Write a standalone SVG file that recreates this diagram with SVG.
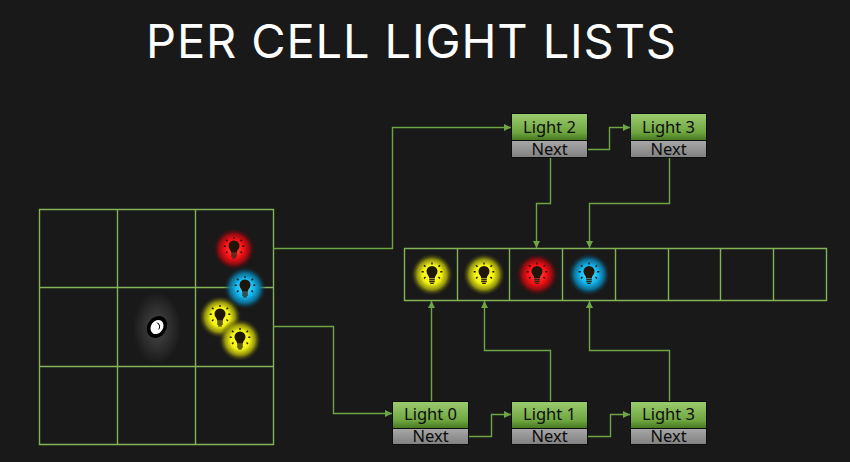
<svg xmlns="http://www.w3.org/2000/svg" width="850" height="462" viewBox="0 0 850 462">
<style>
.grid{fill:none;stroke:#82b356;stroke-width:1.4}
.link{fill:none;stroke:#6ea544;stroke-width:1.4;marker-end:url(#arrow)}
.head{fill:url(#headFill);stroke:#0d0d0d;stroke-width:1}
.next{fill:url(#nextFill);stroke:#0d0d0d;stroke-width:1}
.lbl{font-family:"Noto Sans","DejaVu Sans",sans-serif;font-size:16.500px;fill:#0c0c0c;text-anchor:middle}
.title{font-family:"Inter","Liberation Sans",sans-serif;font-size:47px;font-weight:400;fill:#fff}
</style>
<defs>
<marker id="arrow" markerUnits="userSpaceOnUse" markerWidth="8" markerHeight="8" refX="7" refY="3.500" orient="auto"><path d="M0 0L7 3.500L0 7z" fill="#6ea544"/></marker>
<linearGradient id="headFill" x1="0" y1="0" x2="0" y2="1"><stop offset="0" stop-color="#9ccb70"/><stop offset=".7" stop-color="#6fa640"/><stop offset="1" stop-color="#44761f"/></linearGradient>
<linearGradient id="nextFill" x1="0" y1="0" x2="0" y2="1"><stop offset="0" stop-color="#a8a8a8"/><stop offset="1" stop-color="#808080"/></linearGradient>
<radialGradient id="glowY"><stop offset="0" stop-color="#ffff30"/><stop offset=".45" stop-color="#f4f412"/><stop offset=".72" stop-color="#a0a00e" stop-opacity=".9"/><stop offset="1" stop-color="#3a3a10" stop-opacity="0"/></radialGradient>
<radialGradient id="glowR"><stop offset="0" stop-color="#ff5050"/><stop offset=".45" stop-color="#fb0f14"/><stop offset=".72" stop-color="#a00c10" stop-opacity=".9"/><stop offset="1" stop-color="#3a0a0c" stop-opacity="0"/></radialGradient>
<radialGradient id="glowB"><stop offset="0" stop-color="#60dcff"/><stop offset=".45" stop-color="#12b4ee"/><stop offset=".72" stop-color="#0c769e" stop-opacity=".9"/><stop offset="1" stop-color="#0a3040" stop-opacity="0"/></radialGradient>
<radialGradient id="haze"><stop offset="0" stop-color="#484848"/><stop offset=".55" stop-color="#2f2f2f"/><stop offset="1" stop-color="#191919"/></radialGradient>
<g id="bulb">
<path d="M-2.800 3.800C-2.800 1.300-5.500-.2-5.500-3A5.500 5.500 0 0 1 5.500-3C5.500-.2 2.800 1.300 2.800 3.800z" fill="#1f1606"/>
<path d="M-2.800 5H2.800M-2.800 7H2.800M-1.800 8.800H1.800" stroke="#332a14" stroke-width="1.300" fill="none"/>
<path d="M0-10V-12M-6.500-7.800L-8-9.300M6.500-7.800L8-9.300M-8.300-2.800H-10.300M8.300-2.800H10.300M-6.500 2.400L-8 3.900M6.500 2.400L8 3.900" stroke="#1f1606" stroke-width="1.400" fill="none"/>
</g>
</defs>
<rect width="850" height="462" fill="#191919"/>
<text class="title" x="146" y="58" textLength="530" lengthAdjust="spacing">PER CELL LIGHT LISTS</text>

<g id="cell-grid">
<path class="grid" d="M39.500 209.500H273.500V444.500H39.500zM117.500 209.500V444.500M195.500 209.500V444.500M39.500 287.500H273.500M39.500 366.500H273.500"/>
<ellipse cx="157" cy="328" rx="24" ry="36" fill="url(#haze)"/>
<g id="viewer">
<ellipse cx="157" cy="327" rx="9.500" ry="11.500" transform="rotate(35 157 327)" fill="#000"/>
<ellipse cx="157" cy="327" rx="6" ry="7.500" transform="rotate(35 157 327)" fill="#fff"/>
<path d="M156 322.500A4 4 0 0 1 158 330C160.500 326 158.500 324 156 322.500z" fill="#000"/>
</g>
</g>

<g id="grid-lights">
<g transform="translate(234 249)"><circle r="21" fill="url(#glowR)"/><use href="#bulb"/></g>
<g transform="translate(245 288)"><circle r="21" fill="url(#glowB)"/><use href="#bulb"/></g>
<g transform="translate(220 317)"><circle r="21" fill="url(#glowY)"/><use href="#bulb"/></g>
<g transform="translate(240 340)"><circle r="21" fill="url(#glowY)"/><use href="#bulb"/></g>
</g>

<g id="light-array">
<path class="grid" d="M404.500 248.500H826.500V300.500H404.500zM457.500 248.500V300.500M509.500 248.500V300.500M562.500 248.500V300.500M615.500 248.500V300.500M668.500 248.500V300.500M720.500 248.500V300.500M773.500 248.500V300.500"/>
<g transform="translate(432 274.500)"><circle r="21" fill="url(#glowY)"/><use href="#bulb"/></g>
<g transform="translate(484 274.500)"><circle r="21" fill="url(#glowY)"/><use href="#bulb"/></g>
<g transform="translate(537 274.500)"><circle r="21" fill="url(#glowR)"/><use href="#bulb"/></g>
<g transform="translate(589 274.500)"><circle r="21" fill="url(#glowB)"/><use href="#bulb"/></g>
</g>

<g id="connectors">
<path class="link" d="M273 248.500H392.500V127.500H511"/>
<path class="link" d="M273 326.500H333.500V413.500H392"/>
<path class="link" d="M588 149.500H609.500V127.500H630"/>
<path class="link" d="M469 436.500H491.500V414.500H511"/>
<path class="link" d="M588 436.500H610.500V414.500H630"/>
<path class="link" d="M550.500 157V203.500H536.500V248"/>
<path class="link" d="M669.500 157V203.500H589.500V248"/>
<path class="link" d="M431.500 402V301"/>
<path class="link" d="M550.500 402V350.500H484.500V301"/>
<path class="link" d="M669.500 402V350.500H589.500V301"/>
</g>

<g id="node-top-light-2"><rect class="head" x="511.500" y="113.500" width="76" height="27"/><rect class="next" x="511.500" y="140.500" width="76" height="17"/><text class="lbl" x="549.500" y="133">Light 2</text><text class="lbl" x="549.500" y="154.500">Next</text></g>
<g id="node-top-light-3"><rect class="head" x="630.500" y="113.500" width="76" height="27"/><rect class="next" x="630.500" y="140.500" width="76" height="17"/><text class="lbl" x="668.500" y="133">Light 3</text><text class="lbl" x="668.500" y="154.500">Next</text></g>
<g id="node-light-0"><rect class="head" x="392.500" y="401.500" width="76" height="27"/><rect class="next" x="392.500" y="428.500" width="76" height="16"/><text class="lbl" x="430.500" y="420">Light 0</text><text class="lbl" x="430.500" y="441.500">Next</text></g>
<g id="node-light-1"><rect class="head" x="511.500" y="401.500" width="76" height="27"/><rect class="next" x="511.500" y="428.500" width="76" height="16"/><text class="lbl" x="549.500" y="420">Light 1</text><text class="lbl" x="549.500" y="441.500">Next</text></g>
<g id="node-bottom-light-3"><rect class="head" x="630.500" y="401.500" width="76" height="27"/><rect class="next" x="630.500" y="428.500" width="76" height="16"/><text class="lbl" x="668.500" y="420">Light 3</text><text class="lbl" x="668.500" y="441.500">Next</text></g>
</svg>
